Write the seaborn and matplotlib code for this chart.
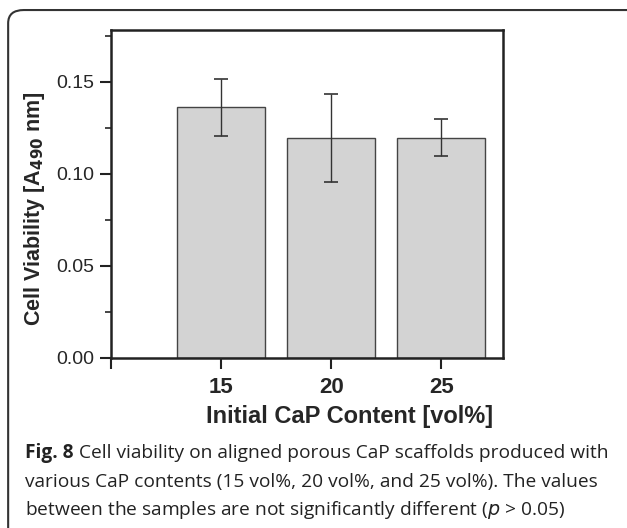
import matplotlib
matplotlib.use('Agg')
import matplotlib.pyplot as plt
import seaborn as sns
from matplotlib.patches import FancyBboxPatch
from matplotlib.ticker import MultipleLocator

# values
content = [15, 20, 25]
viability = [0.136, 0.1195, 0.1195]
viability_sd = [0.0155, 0.024, 0.010]
x_ticks = [10, 15, 20, 25]
x_tick_labels = ['', '15', '20', '25']
caption_lines = [
    ' Cell viability on aligned porous CaP scaffolds produced with',
    'various CaP contents (15 vol%, 20 vol%, and 25 vol%). The values',
    'between the samples are not significantly different ($\\it{p}$ > 0.05)',
]


def visualize():
    sns.set_style('ticks')
    plt.rcParams['font.family'] = ['Liberation Sans', 'DejaVu Sans']

    fig = plt.figure(figsize=(6.27, 5.28), dpi=100)
    ax = fig.add_axes([0.177, 0.322, 0.625, 0.621])

    # bars at their numeric positions
    sns.barplot(x=content, y=viability, native_scale=True, width=0.8,
                color='#d3d3d3', edgecolor='#444444', linewidth=1.0,
                errorbar=None, saturation=1, ax=ax)
    ax.errorbar(content, viability, yerr=viability_sd, fmt='none',
                ecolor='#333333', elinewidth=1.0, capsize=5, capthick=1.2)

    ax.set_xlim(10, 27.8)
    ax.set_ylim(0, 0.178)
    ax.set_xticks(x_ticks)
    ax.set_xticklabels(x_tick_labels, fontsize=16, fontweight='bold')
    ax.yaxis.set_minor_locator(MultipleLocator(0.025))
    ax.set_yticks([0, 0.05, 0.10, 0.15])
    ax.set_yticklabels(['0.00', '0.05', '0.10', '0.15'], fontsize=14)
    ax.tick_params(axis='both', which='major', direction='out', length=8, width=1.5, color='#222222')
    ax.tick_params(axis='y', which='minor', direction='out', length=4, width=1.2)
    ax.tick_params(axis='x', pad=6)
    ax.tick_params(axis='y', pad=4)
    for side in ['top', 'right', 'bottom', 'left']:
        ax.spines[side].set_visible(True)
        ax.spines[side].set_linewidth(1.8)
        ax.spines[side].set_color('#222222')

    ax.set_xlabel('Initial CaP Content [vol%]', fontsize=17, fontweight='bold')
    ax.set_ylabel('Cell Viability [A$_{\\mathbf{490}}$ nm]', fontsize=15.5, fontweight='bold')
    ax.xaxis.set_label_coords(0.61, -0.178)
    ax.yaxis.set_label_coords(-0.195, 0.457)
    ax.xaxis.label.set_va('center')
    ax.yaxis.label.set_va('center')

    # rounded frame around the figure
    frame = FancyBboxPatch((0.013, -0.05), 1.05, 1.031, boxstyle='round,pad=0,rounding_size=0.025',
                           transform=fig.transFigure, facecolor='none', edgecolor='#333333',
                           linewidth=1.5, clip_on=False)
    fig.patches.append(frame)

    # caption, "Fig. 8" in bold followed by the rest of line one
    cap_kw = dict(fontsize=13.8, family=['Open Sans'], va='center', color='#222222')
    x0 = 25 / 627
    head = fig.text(x0, 1 - 453 / 528, 'Fig. 8', fontweight='bold', **cap_kw)
    renderer = fig.canvas.get_renderer()
    head_box = head.get_window_extent(renderer).transformed(fig.transFigure.inverted())
    fig.text(head_box.x1, 1 - 453 / 528, caption_lines[0], **cap_kw)
    fig.text(x0, 1 - 482 / 528, caption_lines[1], **cap_kw)
    fig.text(x0, 1 - 510 / 528, caption_lines[2], **cap_kw)

    fig.savefig('out.png', dpi=100)


if __name__ == '__main__':
    visualize()
